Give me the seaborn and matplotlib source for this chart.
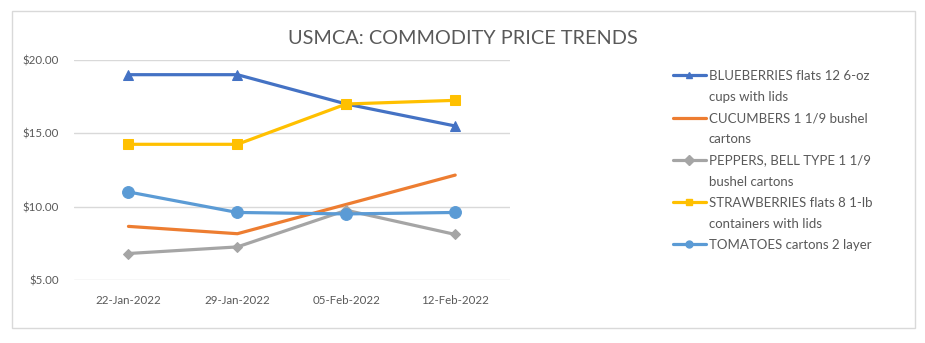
import matplotlib
matplotlib.use("Agg")
import matplotlib.pyplot as plt
import seaborn as sns
import pandas as pd
from matplotlib.patches import Rectangle
from matplotlib.lines import Line2D

dates = ["22-Jan-2022", "29-Jan-2022", "05-Feb-2022", "12-Feb-2022"]
blueberries = [19.00, 19.00, 17.00, 15.50]
cucumbers = [8.65, 8.15, 10.15, 12.15]
peppers = [6.80, 7.25, 9.75, 8.10]
strawberries = [14.25, 14.25, 17.00, 17.25]
tomatoes = [11.00, 9.60, 9.50, 9.60]

series_names = [
    ["BLUEBERRIES flats 12 6-oz", "cups with lids"],
    ["CUCUMBERS 1 1/9 bushel", "cartons"],
    ["PEPPERS, BELL TYPE 1 1/9", "bushel cartons"],
    ["STRAWBERRIES flats 8 1-lb", "containers with lids"],
    ["TOMATOES cartons 2 layer"],
]
series_values = [blueberries, cucumbers, peppers, strawberries, tomatoes]
colors = ["#4472C4", "#ED7D31", "#A5A5A5", "#FFC000", "#5B9BD5"]
markers = ["^", None, "D", "s", "o"]
marker_sizes = [7, 0, 5.5, 7.5, 8.5]

sns.set_theme(style="white")
plt.rcParams["font.family"] = ["Lato", "DejaVu Sans"]
text_color = "#595959"

fig = plt.figure(figsize=(9.25, 3.43), dpi=100)
ax = fig.add_axes([0.08, 0.184, 0.471, 0.641])

# outer chart frame
fig.patches.append(Rectangle((12 / 925, 1 - 328 / 343), 903 / 925, 317 / 343,
                             transform=fig.transFigure, fill=False,
                             edgecolor="#D9D9D9", linewidth=1, zorder=0))

x_pos = list(range(len(dates)))
handles, labels = [], []
for name, vals, col, mk, ms in zip(series_names, series_values, colors, markers, marker_sizes):
    df = pd.DataFrame({"x": x_pos, "y": vals})
    kw = dict(marker=mk, markersize=ms, markeredgecolor=col) if mk else {}
    sns.lineplot(data=df, x="x", y="y", ax=ax, color=col, linewidth=2.3,
                 legend=False, **kw)
    # legend key: the series line with a smaller marker; wrapped text rows get blank keys
    key = Line2D([], [], color=col, linewidth=2.3, marker=mk, markersize=5,
                 markeredgecolor=col)
    handles.append(key)
    labels.append(name[0])
    for extra in name[1:]:
        handles.append(Line2D([], [], linestyle="none"))
        labels.append(extra)

ax.set_xlim(-0.5, 3.5)
ax.set_ylim(5, 20)
ax.set_yticks([5, 10, 15, 20])
ax.set_yticklabels([f"${v:.2f}" for v in [5, 10, 15, 20]])
ax.set_xticks(x_pos)
ax.set_xticklabels(dates)
ax.set_xlabel("")
ax.set_ylabel("")
ax.tick_params(axis="both", colors=text_color, labelsize=8.3, length=0)
ax.tick_params(axis="x", pad=11)
ax.tick_params(axis="y", pad=11)
ax.grid(axis="y", color="#D9D9D9", linewidth=1)
ax.set_axisbelow(True)
for s in ax.spines.values():
    s.set_visible(False)

fig.text(0.5, 1 - 38 / 343, "USMCA: COMMODITY PRICE TRENDS", ha="center", va="center",
         fontsize=14.3, color=text_color)

leg = ax.legend(handles, labels, loc="upper left",
                bbox_to_anchor=(673 / 925, 1 - 70 / 343),
                bbox_transform=fig.transFigure, frameon=False, fontsize=9.5,
                handlelength=2.5, handletextpad=0.2, labelspacing=0.69,
                labelcolor=text_color, borderaxespad=0, borderpad=0)

fig.savefig("out.png", dpi=100)
